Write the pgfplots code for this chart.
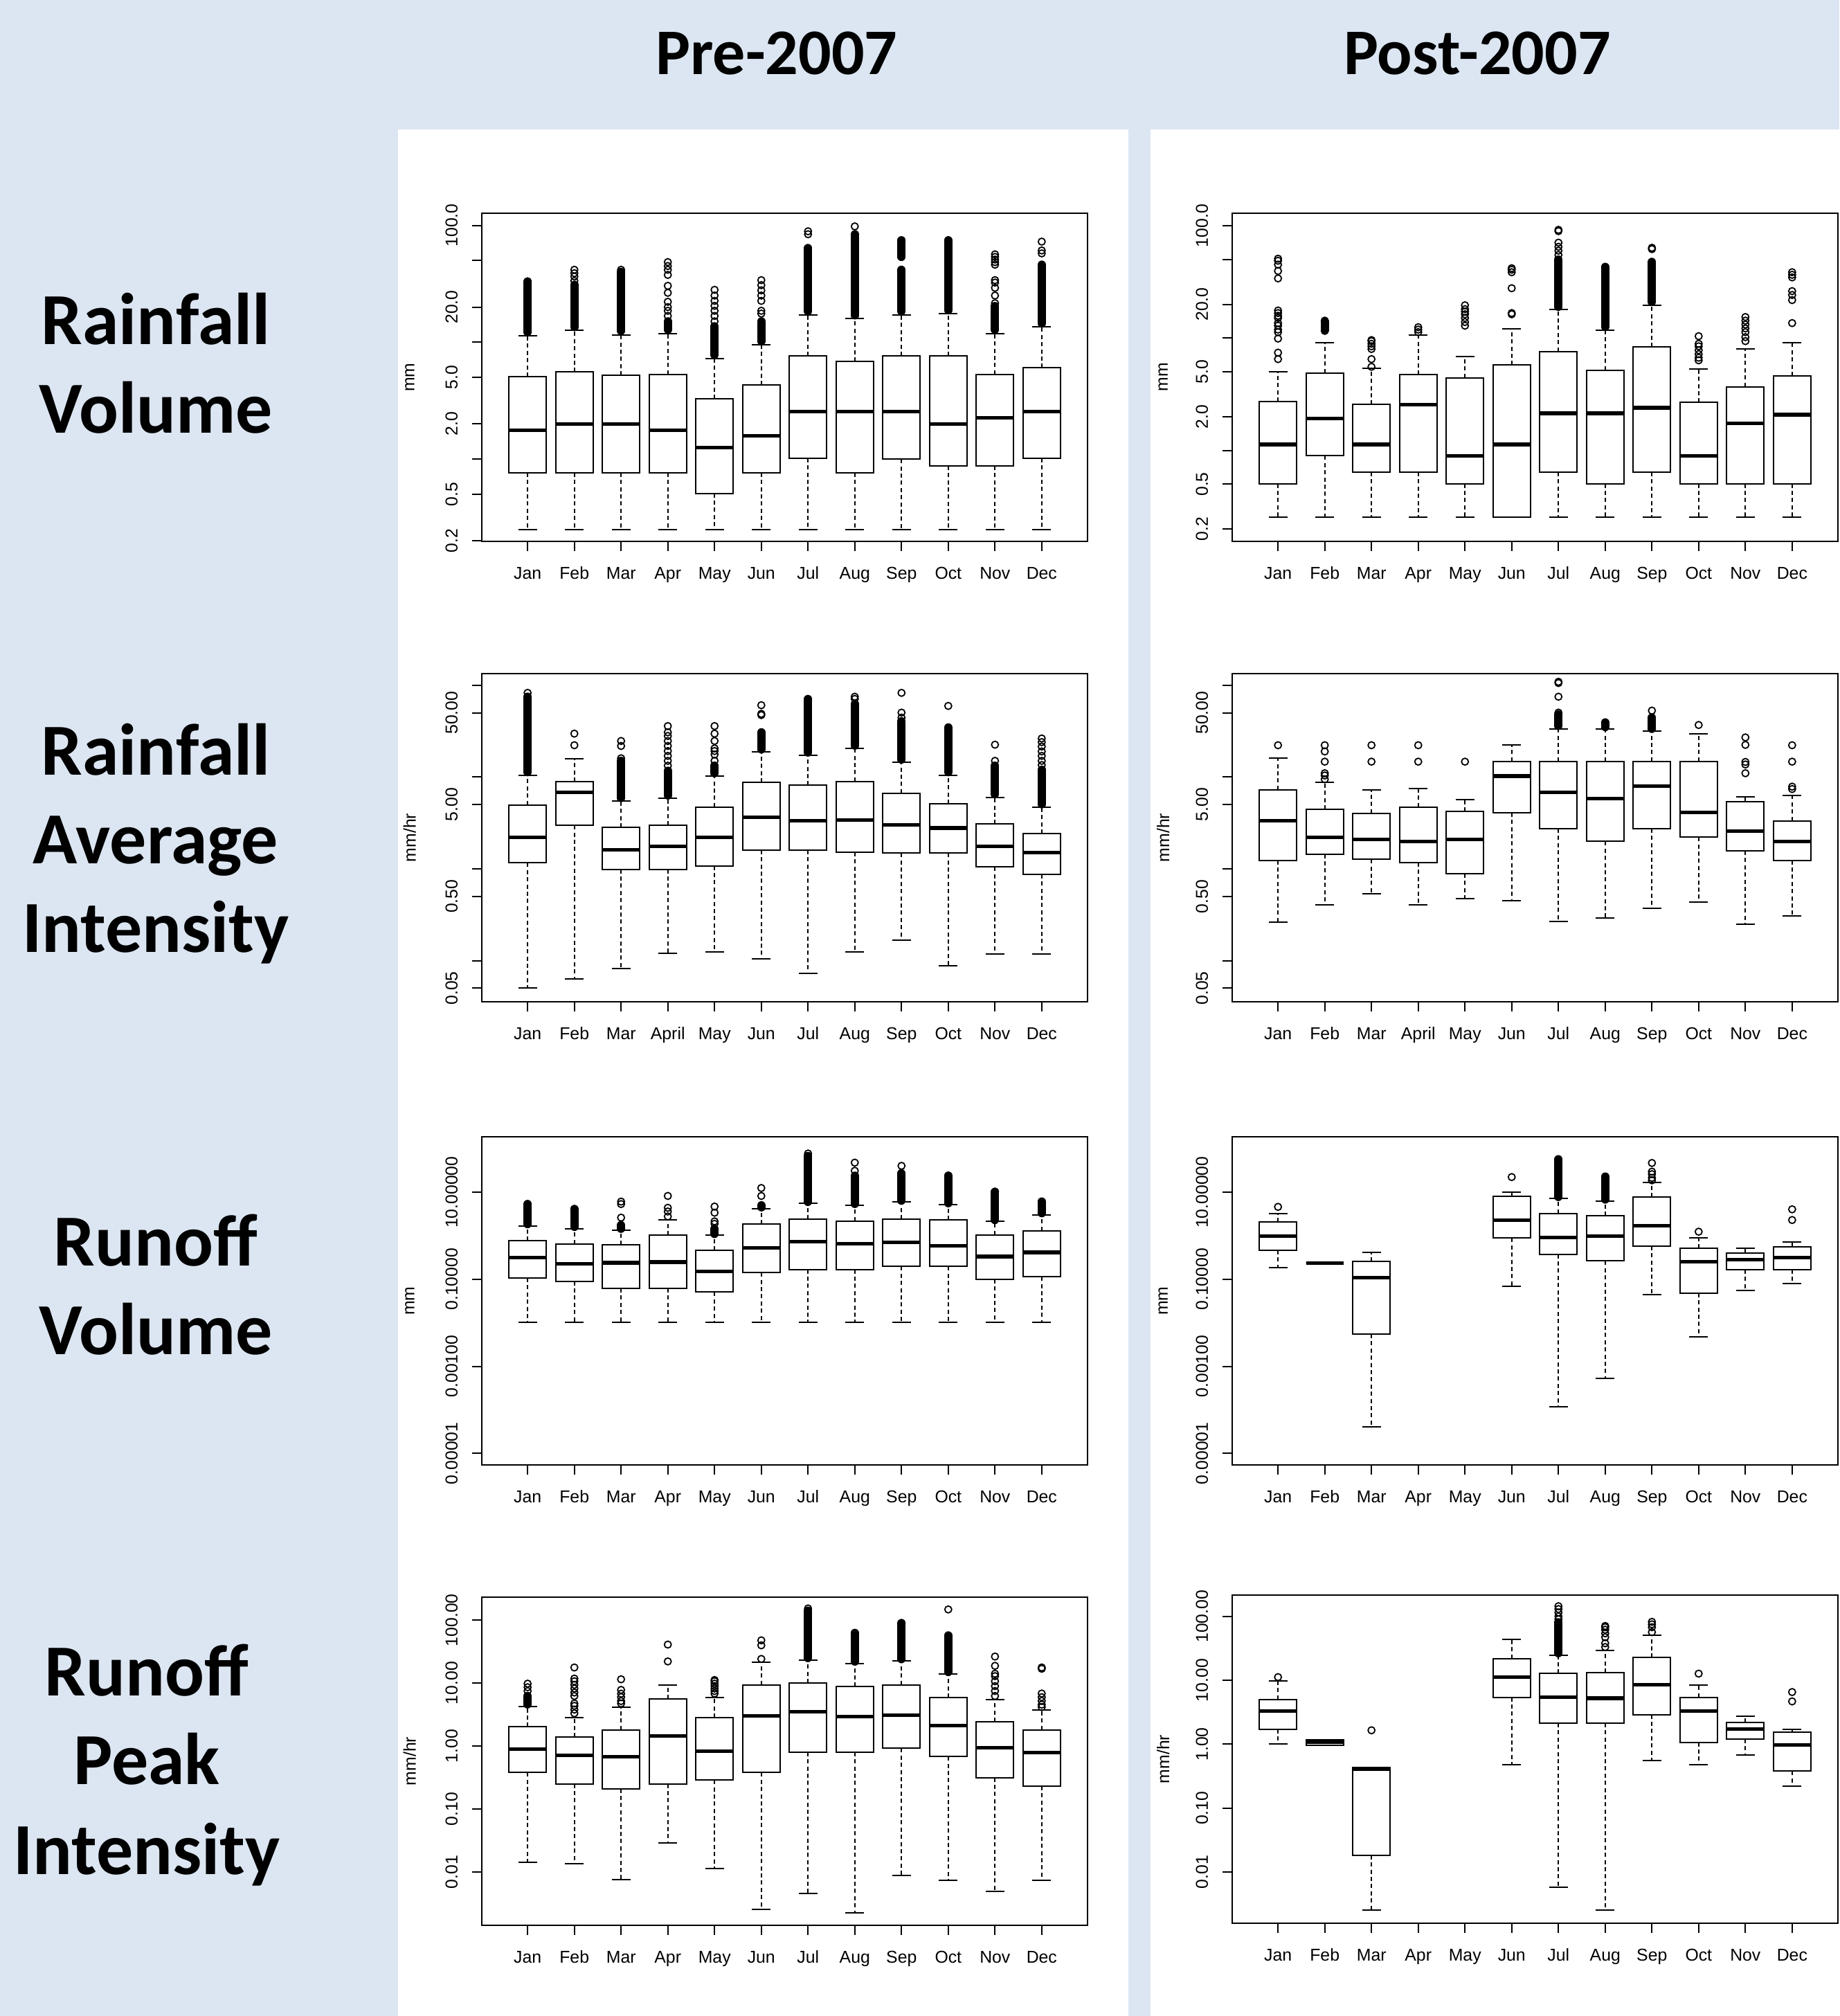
\documentclass[border=0pt]{standalone}
\usepackage{pgfplots}
\pgfplotsset{compat=1.18}
\usepgfplotslibrary{statistics}
\usepackage{fontspec}
\setmainfont{Liberation Sans}
\newfontfamily\calib{Carlito}
\definecolor{bgblue}{RGB}{220,230,242}
\newcommand\rsz{\fontsize{6.2pt}{7pt}\selectfont}
\pgfplotsset{
  boxplot/draw/lower whisker/.code={%
    \draw[dash pattern=on 1.5pt off 1.1pt]
      (boxplot box cs:\pgfplotsboxplotvalue{lower quartile},0.5) --
      (boxplot box cs:\pgfplotsboxplotvalue{lower whisker},0.5);
    \draw (boxplot whisker cs:\pgfplotsboxplotvalue{lower whisker},0) --
      (boxplot whisker cs:\pgfplotsboxplotvalue{lower whisker},1);
  },
  boxplot/draw/upper whisker/.code={%
    \draw[dash pattern=on 1.5pt off 1.1pt]
      (boxplot box cs:\pgfplotsboxplotvalue{upper quartile},0.5) --
      (boxplot box cs:\pgfplotsboxplotvalue{upper whisker},0.5);
    \draw (boxplot whisker cs:\pgfplotsboxplotvalue{upper whisker},0) --
      (boxplot whisker cs:\pgfplotsboxplotvalue{upper whisker},1);
  },
  rpanel/.style={
    scale only axis, width=218.75pt, height=118.5pt, anchor=north west,
    xmin=0.02, xmax=12.98, xtick={1,...,12},
    tick align=outside, xtick pos=left, ytick pos=left,
    major tick length=3.5pt, yminorticks=false,
    axis line style={line width=0.5pt},
    every tick/.style={black, line width=0.5pt},
    tick label style={font=\rsz},
    xticklabel style={inner sep=0pt, text height=4.4pt, text depth=0pt, anchor=north},
    xticklabel shift=5.6pt,
    yticklabel style={rotate=90, anchor=south, inner sep=0pt},
    yticklabel shift=5pt,
    clip=false,
    boxplot/draw direction=y,
  },
  ylab/.style={every axis y label/.style={at={(axis description cs:#1,0.5)}, rotate=90, anchor=center, font=\rsz}},
  rbox/.style={black, solid, line width=0.5pt, mark=o, mark size=1.25pt,
    mark options={solid, line width=0.45pt},
    boxplot/draw direction=y,
    boxplot/box extend=0.8, boxplot/whisker extend=0.4,
    boxplot/every median/.style={line width=1.3pt}},
}
\newcommand\BX[7]{\addplot[rbox, boxplot prepared={draw position=#1, lower whisker=#2, lower quartile=#3, median=#4, upper quartile=#5, upper whisker=#6}] table[row sep=\\, y index=0] {d\\ #7};}
\newcommand\BN[6]{\addplot[rbox, boxplot prepared={draw position=#1, lower whisker=#2, lower quartile=#3, median=#4, upper quartile=#5, upper whisker=#6}] coordinates {};}
\newcommand\DN[3]{\addplot[black, line width=3pt, line cap=round, forget plot] coordinates {(#1,#2) (#1,#3)};}
\begin{document}
\begin{tikzpicture}
\fill[bgblue] (0,0) rectangle (664.25pt,-728pt);
\fill[white] (143.75pt,-46.75pt) rectangle (407.5pt,-728pt);
\fill[white] (415.5pt,-46.75pt) rectangle (664.25pt,-728pt);
\node[font=\calib\bfseries\fontsize{23.5pt}{28pt}\selectfont, anchor=base] at (280.5pt,-27pt) {Pre-2007};
\node[font=\calib\bfseries\fontsize{23.5pt}{28pt}\selectfont, anchor=base] at (533.5pt,-27pt) {Post-2007};
\begin{scope}[every node/.style={font=\calib\bfseries\fontsize{26.5pt}{30pt}\selectfont, anchor=base}]
\node at (56.25pt,-124.25pt) {Rainfall};
\node at (56.25pt,-156.25pt) {Volume};
\node at (56.25pt,-279.75pt) {Rainfall};
\node at (56.25pt,-311.75pt) {Average};
\node at (56.25pt,-343.75pt) {Intensity};
\node at (56.25pt,-457pt) {Runoff};
\node at (56.25pt,-489pt) {Volume};
\node at (53pt,-612.25pt) {Runoff};
\node at (53pt,-644.25pt) {Peak};
\node at (53pt,-676.75pt) {Intensity};
\end{scope}

% ---------- Row 1: Rainfall Volume, Pre-2007
\begin{semilogyaxis}[rpanel, at={(174pt,-77pt)}, ymin=0.198, ymax=127,
  ytick={0.2,0.5,1,2,5,10,20,50,100}, yticklabels={0.2,0.5,,2.0,5.0,,20.0,,100.0},
  xticklabels={Jan,Feb,Mar,Apr,May,Jun,Jul,Aug,Sep,Oct,Nov,Dec},
  ylab=-0.119, ylabel={mm}]
\DN{1}{12.2}{33}
\DN{2}{13.5}{31}
\DN{3}{12.5}{40}
\DN{4}{12.8}{15.1}
\DN{5}{7.8}{13.7}
\DN{6}{10.2}{15.1}
\DN{7}{18.4}{64}
\DN{8}{17}{84}
\DN{9}{18.4}{41.7}
\DN{9}{53.7}{74.5}
\DN{10}{18.8}{74.5}
\DN{11}{12.8}{20.4}
\DN{12}{14.5}{46.1}
\BX{1}{0.25}{0.765}{1.76}{5.08}{11.35}{33.2\\}
\BX{2}{0.25}{0.765}{2.0}{5.56}{12.6}{33.5\\ 36.5\\ 39\\ 41.7\\}
\BX{3}{0.25}{0.765}{2.0}{5.21}{11.6}{41.7\\}
\BX{4}{0.25}{0.765}{1.76}{5.31}{11.9}{16.8\\ 18.6\\ 20\\ 22.2\\ 26.5\\ 30.4\\ 37.7\\ 41.7\\ 44.9\\ 48.5\\}
\BX{5}{0.25}{0.51}{1.26}{3.29}{7.27}{15.1\\ 16.8\\ 18.6\\ 20.5\\ 22.6\\ 25.1\\ 28.1\\}
\BX{6}{0.25}{0.765}{1.59}{4.32}{9.5}{17.6\\ 18.6\\ 22.6\\ 25.1\\ 27.8\\ 30.8\\ 34.0\\}
\BX{7}{0.25}{1.02}{2.54}{7.65}{17.2}{84\\ 89\\}
\BX{8}{0.25}{0.765}{2.54}{6.84}{15.9}{98\\}
\BX{9}{0.25}{1.0}{2.54}{7.65}{17.2}{74.5\\}
\BX{10}{0.25}{0.877}{2.0}{7.65}{17.6}{74.5\\}
\BX{11}{0.25}{0.877}{2.27}{5.31}{11.9}{21.6\\ 25.1\\ 29.2\\ 32.4\\ 34.0\\ 46.1\\ 48.5\\ 51\\ 53.7\\ 56.5\\}
\BX{12}{0.25}{1.02}{2.54}{6.03}{13.5}{57.6\\ 61\\ 72.6\\}
\end{semilogyaxis}

% ---------- Row 1: Rainfall Volume, Post-2007
\begin{semilogyaxis}[rpanel, at={(445pt,-77pt)}, ymin=0.155, ymax=129.3,
  ytick={0.2,0.5,1,2,5,10,20,50,100}, yticklabels={0.2,0.5,,2.0,5.0,,20.0,,100.0},
  xticklabels={Jan,Feb,Mar,Apr,May,Jun,Jul,Aug,Sep,Oct,Nov,Dec},
  ylab=-0.114, ylabel={mm}]
\DN{2}{11.8}{14}
\DN{7}{19}{50}
\DN{8}{12.6}{43}
\DN{9}{21}{47.7}
\BX{1}{0.256}{0.506}{1.13}{2.72}{5.0}{6.5\\ 7.42\\ 9.9\\ 11.3\\ 11.9\\ 12.9\\ 13.6\\ 15.1\\ 15.8\\ 16.7\\ 17.6\\ 34\\ 39.6\\ 45.1\\ 48.8\\ 50.9\\}
\BX{2}{0.256}{0.896}{1.93}{4.9}{9.05}{11.6\\ 14.3\\}
\BX{3}{0.256}{0.64}{1.13}{2.56}{5.39}{5.55\\ 6.5\\ 8.0\\ 8.45\\ 8.9\\ 9.4\\ 9.6\\}
\BX{4}{0.256}{0.64}{2.56}{4.72}{10.6}{11.3\\ 11.9\\ 12.5\\}
\BX{5}{0.256}{0.506}{0.896}{4.43}{6.86}{12.9\\ 13.9\\ 15.1\\ 16.3\\ 17.2\\ 18.1\\ 19.6\\}
\BX{6}{0.255}{0.256}{1.13}{5.74}{12.1}{16.3\\ 16.7\\ 27.8\\ 38.6\\ 40.6\\ 41.9\\}
\BX{7}{0.256}{0.64}{2.14}{7.61}{17.9}{55\\ 60\\ 65\\ 70.7\\ 89.6\\ 92\\}
\BX{8}{0.256}{0.506}{2.14}{5.19}{11.8}{43\\}
\BX{9}{0.256}{0.64}{2.4}{8.32}{19.6}{62\\ 63.7\\}
\BX{10}{0.256}{0.506}{0.896}{2.67}{5.27}{6.34\\ 6.69\\ 7.2\\ 7.8\\ 8.45\\ 8.9\\ 10.4\\}
\BX{11}{0.256}{0.506}{1.75}{3.69}{8.02}{9.4\\ 10.2\\ 11.3\\ 12.2\\ 13.2\\ 14.3\\ 15.4\\}
\BX{12}{0.256}{0.506}{2.08}{4.6}{9.05}{13.6\\ 21.8\\ 24.2\\ 26.2\\ 34.7\\ 36.6\\ 38.6\\}
\end{semilogyaxis}

% ---------- Row 2: Rainfall Average Intensity, Pre-2007
\begin{semilogyaxis}[rpanel, at={(174pt,-243.25pt)}, ymin=0.0356, ymax=133.8,
  ytick={0.05,0.1,0.5,1,5,10,50,100}, yticklabels={0.05,,0.50,,5.00,,50.00,},
  xticklabels={Jan,Feb,Mar,April,May,Jun,Jul,Aug,Sep,Oct,Nov,Dec},
  ylab=-0.119, ylabel={mm/hr}]
\DN{1}{11.3}{75}
\DN{3}{5.9}{15}
\DN{4}{6.3}{11.7}
\DN{5}{11}{13.3}
\DN{6}{20}{30.7}
\DN{7}{18.5}{70.7}
\DN{8}{22}{62.5}
\DN{9}{15.5}{40.5}
\DN{10}{11.3}{34.7}
\DN{11}{6.5}{13.3}
\DN{12}{5.05}{12}
\BX{1}{0.0506}{1.16}{2.21}{4.97}{10.5}{82.6\\}
\BX{2}{0.0632}{2.97}{6.81}{8.89}{15.7}{22.2\\ 29.7\\}
\BX{3}{0.082}{0.988}{1.62}{2.83}{5.52}{16\\ 21.8\\ 24.7\\}
\BX{4}{0.12}{0.988}{1.75}{2.97}{5.87}{13.3\\ 15\\ 17\\ 19.2\\ 21.8\\ 24.7\\ 28\\ 30.7\\ 35.9\\}
\BX{5}{0.124}{1.08}{2.21}{4.7}{10.25}{15\\ 17.6\\ 19.2\\ 20.5\\ 24.7\\ 29.7\\ 35.9\\}
\BX{6}{0.105}{1.6}{3.62}{8.73}{18.7}{47.3\\ 48.8\\ 60.6\\}
\BX{7}{0.072}{1.6}{3.34}{8.1}{17.3}{70.7\\}
\BX{8}{0.124}{1.52}{3.41}{8.95}{20.5}{71\\ 75\\}
\BX{9}{0.166}{1.486}{3.01}{6.65}{14.5}{44.4\\ 50.3\\ 82.6\\}
\BX{10}{0.0873}{1.486}{2.78}{5.09}{10.5}{59.5\\}
\BX{11}{0.117}{1.05}{1.75}{3.07}{6.02}{15\\ 22.5\\}
\BX{12}{0.117}{0.873}{1.5}{2.42}{4.7}{13.5\\ 15\\ 17\\ 19\\ 21.5\\ 24\\ 26.3\\}
\end{semilogyaxis}

% ---------- Row 2: Rainfall Average Intensity, Post-2007
\begin{semilogyaxis}[rpanel, at={(445pt,-243.25pt)}, ymin=0.0356, ymax=133.8,
  ytick={0.05,0.1,0.5,1,5,10,50,100}, yticklabels={0.05,,0.50,,5.00,,50.00,},
  xticklabels={Jan,Feb,Mar,April,May,Jun,Jul,Aug,Sep,Oct,Nov,Dec},
  ylab=-0.114, ylabel={mm/hr}]
\DN{7}{36}{48}
\DN{8}{35}{39.3}
\DN{9}{33.5}{44.5}
\BX{1}{0.261}{1.24}{3.34}{7.25}{16.2}{22.2\\}
\BX{2}{0.403}{1.45}{2.21}{4.44}{8.73}{9.45\\ 10.4\\ 11.0\\ 14.7\\ 19.0\\ 22.2\\}
\BX{3}{0.538}{1.27}{2.1}{4.02}{7.25}{14.7\\ 22.2\\}
\BX{4}{0.403}{1.17}{1.99}{4.7}{7.47}{14.7\\ 22.2\\}
\BX{5}{0.47}{0.889}{2.1}{4.23}{5.66}{14.7\\}
\BN{6}{0.447}{4.1}{10.25}{14.8}{22.2}
\BX{7}{0.269}{2.74}{6.81}{14.8}{33.6}{50.3\\ 75\\ 105.7\\ 109\\}
\BX{8}{0.29}{1.99}{5.84}{14.8}{33.6}{39.3\\}
\BX{9}{0.371}{2.74}{7.95}{14.8}{31.6}{52.9\\}
\BX{10}{0.436}{2.21}{4.1}{14.8}{29.7}{36.9\\}
\BX{11}{0.249}{1.57}{2.58}{5.35}{6.13}{11.0\\ 13.7\\ 14.6\\ 22.4\\ 27.0\\}
\BX{12}{0.308}{1.24}{1.99}{3.34}{6.33}{7.4\\ 7.86\\ 14.7\\ 22.2\\}
\end{semilogyaxis}

% ---------- Row 3: Runoff Volume, Pre-2007
\begin{semilogyaxis}[rpanel, at={(174pt,-410.5pt)}, ymin=5.42e-6, ymax=188,
  ytick={0.00001,0.001,0.1,10}, yticklabels={0.00001,0.00100,0.10000,10.00000},
  xticklabels={Jan,Feb,Mar,Apr,May,Jun,Jul,Aug,Sep,Oct,Nov,Dec},
  ylab=-0.119, ylabel={mm}]
\DN{1}{1.85}{5.35}
\DN{2}{1.6}{4.12}
\DN{3}{1.45}{1.76}
\DN{5}{1.1}{1.45}
\DN{6}{4.5}{5.01}
\DN{7}{6}{68.1}
\DN{8}{5.4}{24}
\DN{9}{6.4}{27.3}
\DN{10}{5.6}{24}
\DN{11}{2.3}{10.26}
\DN{12}{3.3}{6.09}
\BX{1}{0.0102}{0.107}{0.315}{0.775}{1.70}{5.35\\}
\BX{2}{0.0102}{0.0901}{0.224}{0.655}{1.45}{4.12\\}
\BX{3}{0.0102}{0.0617}{0.24}{0.621}{1.36}{2.61\\ 5.35\\ 6.09\\}
\BX{4}{0.0102}{0.0617}{0.249}{1.03}{2.32}{2.78\\ 3.61\\ 4.39\\ 8.22\\}
\BX{5}{0.0102}{0.0507}{0.152}{0.46}{1.03}{1.88\\ 2.14\\ 3.39\\ 4.69\\}
\BX{6}{0.0102}{0.142}{0.531}{1.83}{4.23}{8.22\\ 12.5\\}
\BX{7}{0.0102}{0.168}{0.736}{2.41}{5.56}{77.6\\}
\BX{8}{0.0102}{0.168}{0.664}{2.17}{5.01}{31.1\\ 47.9\\}
\BX{9}{0.0102}{0.197}{0.698}{2.41}{5.93}{40.4\\}
\BX{10}{0.0102}{0.197}{0.582}{2.29}{5.21}{24\\}
\BX{11}{0.0102}{0.1}{0.332}{1.05}{2.14}{10.26\\}
\BX{12}{0.0102}{0.114}{0.415}{1.31}{3.05}{6.09\\}
\end{semilogyaxis}

% ---------- Row 3: Runoff Volume, Post-2007
\begin{semilogyaxis}[rpanel, at={(445pt,-410.5pt)}, ymin=5.42e-6, ymax=188,
  ytick={0.00001,0.001,0.1,10}, yticklabels={0.00001,0.00100,0.10000,10.00000},
  xticklabels={Jan,Feb,Mar,Apr,May,Jun,Jul,Aug,Sep,Oct,Nov,Dec},
  ylab=-0.114, ylabel={mm}]
\DN{7}{7.8}{57.3}
\DN{8}{6.8}{22.9}
\BX{1}{0.183}{0.464}{0.98}{2.07}{3.28}{4.61\\}
\BN{2}{0.238}{0.238}{0.238}{0.238}{0.238}
\BN{3}{4.02e-5}{0.0055}{0.108}{0.254}{0.418}
\BX{6}{0.0684}{0.883}{2.3}{8.0}{10.1}{22.3\\}
\BN{7}{1.19e-4}{0.376}{0.918}{3.28}{7.2}
\BN{8}{5.19e-4}{0.264}{0.98}{2.88}{6.32}
\BX{9}{0.0438}{0.58}{1.72}{7.69}{16.9}{18.8\\ 21.4\\ 26\\ 29.7\\ 47\\}
\BX{10}{0.0047}{0.048}{0.254}{0.509}{0.883}{1.24\\}
\BN{11}{0.0547}{0.167}{0.282}{0.402}{0.509}
\BX{12}{0.081}{0.167}{0.313}{0.565}{0.707}{2.3\\ 4.05\\}
\end{semilogyaxis}

% ---------- Row 4: Runoff Peak Intensity, Pre-2007
\begin{semilogyaxis}[rpanel, at={(174pt,-576.75pt)}, ymin=0.001435, ymax=231,
  ytick={0.01,0.1,1,10,100}, yticklabels={0.01,0.10,1.00,10.00,100.00},
  xticklabels={Jan,Feb,Mar,Apr,May,Jun,Jul,Aug,Sep,Oct,Nov,Dec},
  ylab=-0.119, ylabel={mm/hr}]
\DN{1}{4.6}{6.25}
\DN{7}{25}{141}
\DN{8}{22}{62.5}
\DN{9}{24}{89.7}
\DN{10}{15}{57.1}
\BX{1}{0.01435}{0.38}{0.897}{2.02}{4.28}{7.5\\ 8.6\\ 9.8\\}
\BX{2}{0.0137}{0.253}{0.716}{1.38}{2.82}{3.32\\ 3.8\\ 4.36\\ 4.76\\ 6.25\\ 7.1\\ 8.2\\ 9.4\\ 10.7\\ 11.8\\ 17.7\\}
\BX{3}{0.0076}{0.2115}{0.684}{1.81}{4.17}{4.76\\ 5.2\\ 6.0\\ 6.8\\ 7.8\\ 11.5\\}
\BX{4}{0.029}{0.253}{1.44}{5.61}{9.39}{22.1\\ 40.9\\}
\BX{5}{0.01145}{0.29}{0.835}{2.82}{5.98}{6.84\\ 7.5\\ 8.2\\ 8.97\\ 9.8\\ 10.7\\ 11.2\\}
\BX{6}{0.00254}{0.38}{3.04}{9.39}{21.7}{24.2\\ 39.8\\ 47.7\\}
\BX{7}{0.00464}{0.805}{3.54}{10}{23.2}{153\\}
\BX{8}{0.00225}{0.805}{2.96}{8.74}{20.6}{62.5\\}
\BX{9}{0.00897}{0.922}{3.12}{9.39}{22.5}{89.7\\}
\BX{10}{0.00736}{0.684}{2.12}{5.87}{14.1}{147.5\\}
\BX{11}{0.00499}{0.318}{0.939}{2.42}{5.46}{6.25\\ 7.5\\ 8.97\\ 10.7\\ 12.9\\ 14.1\\ 18.8\\ 26.4\\}
\BX{12}{0.00736}{0.232}{0.798}{1.81}{3.7}{4.16\\ 4.56\\ 5.22\\ 5.98\\ 6.84\\ 16.9\\ 17.7\\}
\end{semilogyaxis}

% ---------- Row 4: Runoff Peak Intensity, Post-2007
\begin{semilogyaxis}[rpanel, at={(445pt,-576pt)}, ymin=0.00158, ymax=215,
  ytick={0.01,0.1,1,10,100}, yticklabels={0.01,0.10,1.00,10.00,100.00},
  xticklabels={Jan,Feb,Mar,Apr,May,Jun,Jul,Aug,Sep,Oct,Nov,Dec},
  ylab=-0.114, ylabel={mm/hr}]
\DN{7}{26.5}{80.8}
\BX{1}{1.0}{1.71}{3.27}{5.01}{9.7}{11.2\\}
\BN{2}{0.956}{0.956}{1.074}{1.17}{1.17}
\BX{3}{0.00256}{0.0183}{0.41}{0.429}{0.429}{1.65\\}
\BN{6}{0.482}{5.43}{11.2}{21.8}{43.3}
\BX{7}{0.00575}{2.13}{5.43}{12.7}{24.7}{90\\ 100\\ 115\\ 130\\ 144\\}
\BX{8}{0.00256}{2.13}{5.24}{13.2}{29.5}{33.1\\ 37.9\\ 47.2\\ 54.2\\ 61.8\\ 67.6\\ 70.7\\}
\BX{9}{0.561}{2.91}{8.56}{22.6}{50.8}{56.6\\ 67.6\\ 75\\ 82\\}
\BX{10}{0.482}{1.074}{3.27}{5.43}{8.33}{12.7\\}
\BN{11}{0.676}{1.206}{1.71}{2.19}{2.71}
\BX{12}{0.222}{0.379}{0.965}{1.53}{1.71}{4.67\\ 6.54\\}
\end{semilogyaxis}
\pgfresetboundingbox
\path (0,0) rectangle (664.25pt,-728pt);
\end{tikzpicture}
\end{document}
